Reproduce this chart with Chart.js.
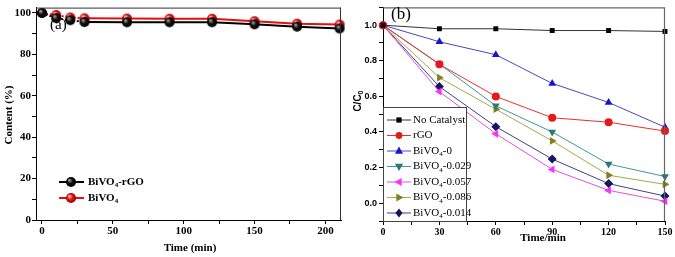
<!DOCTYPE html>
<html>
<head>
<meta charset="utf-8">
<script src="https://cdn.jsdelivr.net/npm/chart.js@4.4.1/dist/chart.umd.min.js"></script>
<style>
  html, body { margin: 0; padding: 0; background: #fff; }
  #wrap { position: relative; width: 675px; height: 257px; overflow: hidden; }
  .pane { position: absolute; top: 0; }
</style>
</head>
<body>
<div id="wrap">
  <div class="pane" style="left:0;width:348px;height:257px"><canvas id="chartA"></canvas></div>
  <div class="pane" style="left:340px;width:335px;height:257px"><canvas id="chartB"></canvas></div>
</div>
<script>
// ---- panel (a) data ----
const timeA = [0, 10, 20, 30, 60, 90, 120, 150, 180, 210];
const bivo4Rgo = [100, 97.5, 96.5, 95.6, 95.5, 95.5, 95.5, 94.5, 93.4, 92.5];
const bivo4 = [100, 99, 97.8, 97.4, 97.3, 97.2, 97.2, 96, 94.8, 94.4];
const labelsA = ["BiVO_4-rGO", "BiVO_4"];

// ---- panel (b) data ----
const timeB = [0, 30, 60, 90, 120, 150];
const noCatalyst = [1.0, 0.98, 0.98, 0.97, 0.97, 0.965];
const rGO = [1.0, 0.78, 0.60, 0.48, 0.455, 0.405];
const bivo0 = [1.0, 0.907, 0.834, 0.673, 0.566, 0.427];
const bivo029 = [1.0, 0.782, 0.547, 0.40, 0.22, 0.15];
const bivo057 = [1.0, 0.627, 0.39, 0.19, 0.072, 0.011];
const bivo086 = [1.0, 0.705, 0.528, 0.35, 0.157, 0.106];
const bivo014 = [1.0, 0.655, 0.43, 0.248, 0.11, 0.04];
const labelsB = ["No Catalyst", "rGO", "BiVO_4-0", "BiVO_4-0.029", "BiVO_4-0.057", "BiVO_4-0.086", "BiVO_4-0.014"];

const SERIF = "'Liberation Serif', 'Times New Roman', serif";
const SANS = "'Liberation Sans', Arial, sans-serif";

// shaded ball marker for panel (a)
function sphere(light, base, dark, r) {
  const c = document.createElement("canvas");
  c.width = c.height = 2 * r + 2;
  const g = c.getContext("2d");
  const m = r + 1;
  const grad = g.createRadialGradient(m - r * 0.35, m - r * 0.4, r * 0.1, m, m, r);
  grad.addColorStop(0, light);
  grad.addColorStop(0.45, base);
  grad.addColorStop(1, dark);
  g.fillStyle = grad;
  g.beginPath();
  g.arc(m, m, r, 0, Math.PI * 2);
  g.fill();
  return c;
}
const ballBlack = sphere("#9a9a9a", "#111", "#000", 5);
const ballRed = sphere("#ffd0d0", "#f01818", "#8a0000", 5);

// draws "BiVO_4-xx" style text with subscript, returns end x
function subText(ctx, text, x, y, font, size) {
  const parts = text.split("_");
  ctx.textAlign = "left";
  ctx.textBaseline = "middle";
  ctx.font = font.replace("{s}", size);
  ctx.fillText(parts[0], x, y);
  x += ctx.measureText(parts[0]).width;
  for (let i = 1; i < parts.length; i++) {
    const sub = parts[i][0], rest = parts[i].slice(1);
    ctx.font = font.replace("{s}", Math.round(size * 0.65));
    ctx.fillText(sub, x, y + size * 0.3);
    x += ctx.measureText(sub).width;
    ctx.font = font.replace("{s}", size);
    ctx.fillText(rest, x, y);
    x += ctx.measureText(rest).width;
  }
  return x;
}

function drawMarker(ctx, style, rot, r, x, y, color) {
  ctx.save();
  ctx.translate(x, y);
  ctx.rotate(rot * Math.PI / 180);
  ctx.fillStyle = color;
  ctx.beginPath();
  if (style === "rect") {
    ctx.rect(-r * 0.75, -r * 0.75, r * 1.5, r * 1.5);
  } else if (style === "circle") {
    ctx.arc(0, 0, r * 0.85, 0, Math.PI * 2);
  } else if (style === "triangle") {
    ctx.moveTo(0, -r); ctx.lineTo(r * 0.9, r * 0.6); ctx.lineTo(-r * 0.9, r * 0.6);
  } else if (style === "rectRot") {
    ctx.moveTo(0, -r); ctx.lineTo(r * 0.8, 0); ctx.lineTo(0, r); ctx.lineTo(-r * 0.8, 0);
  }
  ctx.closePath();
  ctx.fill();
  ctx.restore();
}

// ---------------- panel (a) ----------------
const framePluginA = {
  id: "frameA",
  afterDraw(chart) {
    const { ctx, chartArea: a } = chart;
    ctx.save();
    ctx.strokeStyle = "#333";
    ctx.lineWidth = 1;
    ctx.beginPath();
    ctx.moveTo(a.left, a.top + 0.5); ctx.lineTo(a.right, a.top + 0.5);
    ctx.moveTo(a.right - 0.5, a.top); ctx.lineTo(a.right - 0.5, a.bottom);
    ctx.stroke();

    ctx.fillStyle = "#000";
    ctx.font = "15px " + SERIF;
    ctx.textAlign = "left"; ctx.textBaseline = "middle";
    ctx.fillText("(a)", 50, 25);

    ctx.font = "bold 11px " + SERIF;
    ctx.textAlign = "center";
    ctx.fillText("Time (min)", 190, 248);
    ctx.save();
    ctx.translate(9, 115);
    ctx.rotate(-Math.PI / 2);
    ctx.fillText("Content (%)", 0, 0);
    ctx.restore();

    // legend
    const cols = [["#000", ballBlack], ["#e01010", ballRed]];
    labelsA.forEach((lab, i) => {
      const y = 182 + i * 16;
      ctx.strokeStyle = cols[i][0];
      ctx.lineWidth = 2;
      ctx.beginPath(); ctx.moveTo(59, y); ctx.lineTo(84, y); ctx.stroke();
      ctx.drawImage(cols[i][1], 71 - 6, y - 6);
      ctx.fillStyle = "#000";
      subText(ctx, lab, 88, y, "bold {s}px " + SERIF, 11);
    });
    ctx.restore();
  }
};

const dotted = ctx => ctx.p0DataIndex < 3 ? [2, 2] : undefined;

new Chart(document.getElementById("chartA"), {
  type: "line",
  data: {
    datasets: [
      {
        label: labelsA[0],
        data: timeA.map((t, i) => ({ x: t, y: bivo4Rgo[i] })),
        borderColor: "#000", borderWidth: 2,
        pointStyle: ballBlack, pointRadius: 5,
        segment: { borderDash: dotted },
        clip: false
      },
      {
        label: labelsA[1],
        data: timeA.map((t, i) => ({ x: t, y: bivo4[i] })),
        borderColor: "#e01010", borderWidth: 2,
        pointStyle: ballRed, pointRadius: 5,
        segment: { borderDash: dotted },
        clip: false
      }
    ]
  },
  options: {
    responsive: true, maintainAspectRatio: false, animation: false,
    layout: { padding: { top: 4, right: 3, left: 0, bottom: 0 } },
    plugins: { legend: { display: false }, tooltip: { enabled: false } },
    scales: {
      x: {
        type: "linear", min: -4.2, max: 211,
        afterFit: s => { s.height = 37; },
        grid: { drawOnChartArea: false, tickLength: 4, color: "#000" },
        border: { color: "#000", width: 1 },
        ticks: {
          stepSize: 25, includeBounds: false, padding: 1, color: "#000",
          maxRotation: 0, autoSkip: false,
          font: { family: SERIF, size: 11, weight: "bold" },
          callback: v => v % 50 === 0 ? v : ""
        }
      },
      y: {
        min: 0, max: 102.6,
        afterFit: s => { s.width = 36; },
        grid: { drawOnChartArea: false, tickLength: 4, color: "#000" },
        border: { color: "#000", width: 1 },
        ticks: {
          stepSize: 10, includeBounds: false, padding: 1, color: "#000",
          autoSkip: false,
          font: { family: SERIF, size: 11, weight: "bold" },
          callback: v => v % 20 === 0 ? v : ""
        }
      }
    }
  },
  plugins: [framePluginA]
});

// ---------------- panel (b) ----------------
const seriesB = [
  { vals: noCatalyst, line: "#333", mark: "#000", style: "rect", rot: 0, r: 3.5 },
  { vals: rGO, line: "#e83030", mark: "#e81818", style: "circle", rot: 0, r: 4 },
  { vals: bivo0, line: "#4848c0", mark: "#1616d0", style: "triangle", rot: 0, r: 4.5 },
  { vals: bivo029, line: "#3a9a9a", mark: "#2a7878", style: "triangle", rot: 180, r: 4.5 },
  { vals: bivo057, line: "#e050e0", mark: "#ff30ff", style: "triangle", rot: 270, r: 4.5 },
  { vals: bivo086, line: "#a8a848", mark: "#808020", style: "triangle", rot: 90, r: 4.5 },
  { vals: bivo014, line: "#404080", mark: "#141460", style: "rectRot", rot: 0, r: 4.5 }
];

const framePluginB = {
  id: "frameB",
  afterDraw(chart) {
    const { ctx, chartArea: a } = chart;
    ctx.save();
    ctx.strokeStyle = "#666";
    ctx.lineWidth = 1.2;
    ctx.beginPath();
    ctx.moveTo(a.left, a.top + 0.5); ctx.lineTo(a.right, a.top + 0.5);
    ctx.moveTo(a.right - 0.5, a.top); ctx.lineTo(a.right - 0.5, a.bottom);
    ctx.stroke();

    // legend box
    const bx = a.left, by = 107, bw = 83, bh = a.bottom - by;
    ctx.fillStyle = "#fff";
    ctx.fillRect(bx, by, bw, bh);
    ctx.strokeStyle = "#444";
    ctx.lineWidth = 1;
    ctx.strokeRect(bx + 0.5, by + 0.5, bw, bh);
    labelsB.forEach((lab, i) => {
      const s = seriesB[i];
      const y = 120 + i * 15.5;
      ctx.strokeStyle = s.line;
      ctx.lineWidth = 1;
      ctx.beginPath(); ctx.moveTo(bx + 4, y); ctx.lineTo(bx + 28, y); ctx.stroke();
      drawMarker(ctx, s.style, s.rot, s.r, bx + 16, y, s.mark);
      ctx.fillStyle = "#000";
      subText(ctx, lab, bx + 30, y, "{s}px " + SERIF, 11);
    });

    ctx.fillStyle = "#000";
    ctx.font = "17px " + SERIF;
    ctx.textAlign = "left"; ctx.textBaseline = "middle";
    ctx.fillText("(b)", 51, 15);

    ctx.font = "bold 11px " + SERIF;
    ctx.textAlign = "center";
    ctx.fillText("Time/min", 203, 238);

    ctx.save();
    ctx.translate(18, 100);
    ctx.rotate(-Math.PI / 2);
    ctx.font = "bold 10px " + SANS;
    ctx.textAlign = "left";
    const w = ctx.measureText("C/C").width;
    ctx.fillText("C/C", -w / 2 - 3, 0);
    ctx.font = "bold 7px " + SANS;
    ctx.fillText("0", w / 2 - 3, 3);
    ctx.restore();
    ctx.restore();
  }
};

new Chart(document.getElementById("chartB"), {
  type: "line",
  data: {
    datasets: seriesB.map((s, k) => ({
      label: labelsB[k],
      data: timeB.map((t, i) => ({ x: t, y: s.vals[i] })),
      borderColor: s.line, borderWidth: 1,
      backgroundColor: s.mark, pointBorderColor: s.mark, pointBorderWidth: 0,
      pointStyle: s.style, pointRotation: s.rot, pointRadius: s.r,
      clip: false
    }))
  },
  options: {
    responsive: true, maintainAspectRatio: false, animation: false,
    layout: { padding: { top: 4, right: 10, left: 0, bottom: 0 } },
    plugins: { legend: { display: false }, tooltip: { enabled: false } },
    scales: {
      x: {
        type: "linear", min: 0, max: 150,
        afterFit: s => { s.height = 36; },
        grid: { drawOnChartArea: false, tickLength: 4, color: "#000" },
        border: { color: "#000", width: 1 },
        ticks: {
          stepSize: 15, padding: 1, color: "#000", maxRotation: 0, autoSkip: false,
          font: { family: SERIF, size: 10, weight: "bold" },
          callback: v => v % 30 === 0 ? v : ""
        }
      },
      y: {
        min: -0.1, max: 1.1,
        afterFit: s => { s.width = 43; },
        grid: { drawOnChartArea: false, tickLength: 4, color: "#000" },
        border: { color: "#000", width: 1 },
        ticks: {
          stepSize: 0.1, includeBounds: false, padding: 2, color: "#000", autoSkip: false,
          font: { family: SANS, size: 9, weight: "bold" },
          callback: v => Math.round(v * 10) % 2 === 0 ? v.toFixed(1) : ""
        }
      }
    }
  },
  plugins: [framePluginB]
});
</script>
</body>
</html>
